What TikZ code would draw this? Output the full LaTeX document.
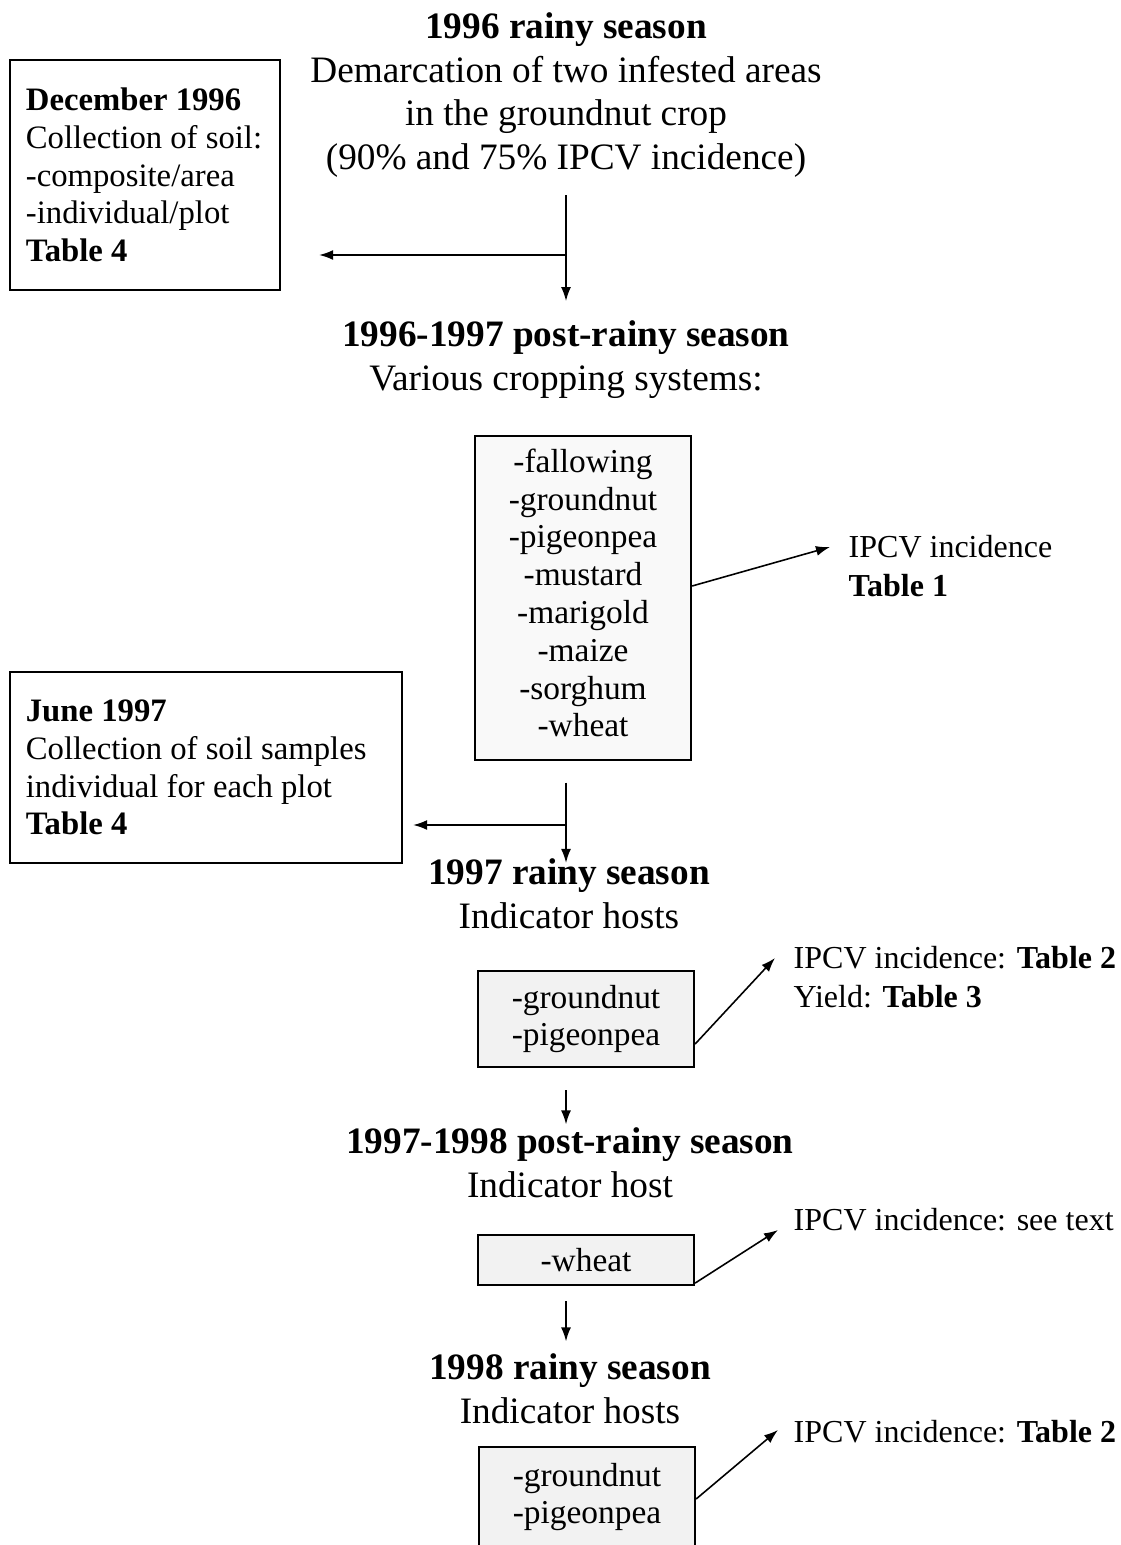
\documentclass[tikz,border=0pt]{standalone}
\usepackage{fontspec}
\setmainfont{Liberation Serif}
\usetikzlibrary{arrows.meta}

\begin{document}
\begin{tikzpicture}[x=0.01cm,y=-0.01cm,
    season/.style={align=center,inner sep=0pt,font=\fontsize{10.6}{12.4}\selectfont},
    soilbox/.style={draw,line width=0.6pt,align=flush left,inner xsep=0.16cm,font=\fontsize{9.3}{10.75}\selectfont},
    hostbox/.style={draw,line width=0.6pt,fill=gray!10,align=center,minimum width=2.16cm,font=\fontsize{9.5}{10.75}\selectfont},
    result/.style={anchor=west,align=left,inner sep=0pt,font=\fontsize{9.1}{11.1}\selectfont},
    link/.style={line width=0.45pt,-{Latex[length=0.14cm,width=0.1cm]}}]
    \clip (0,0) rectangle (1120,1545);

    \node[season] (s96) at (566,95)
      {\textbf{1996 rainy season}\\ Demarcation of two infested areas\\ in the groundnut crop\\ (90\% and 75\% IPCV incidence)};
    \node[soilbox,minimum width=2.7cm,minimum height=2.3cm,text width=2.38cm] (dec96) at (145,175)
      {\textbf{December 1996}\\ Collection of soil:\\ -composite/area\\ -individual/plot\\ \textbf{Table 4}};

    \node[season] (s9697) at (566,359.5)
      {\textbf{1996-1997 post-rainy season}\\ Various cropping systems:};
    \node[hostbox,fill=gray!5,minimum height=3.23cm] (crops) at (583,598) {};
    \node[align=center,font=\fontsize{9.5}{10.75}\selectfont] (croplist) at (583,593)
      {-fallowing\\ -groundnut\\ -pigeonpea\\ -mustard\\ -marigold\\ -maize\\ -sorghum\\ -wheat};
    \node[result] (inc1) at (848,566) {IPCV incidence\\ \textbf{Table 1}};

    \node[soilbox,minimum width=3.92cm,minimum height=1.91cm,text width=3.6cm] (jun97) at (206,767.5)
      {\textbf{June 1997}\\ Collection of soil samples\\ individual for each plot\\ \textbf{Table 4}};

    \node[season] (s97) at (569,893.5) {\textbf{1997 rainy season}\\ Indicator hosts};
    \node[hostbox,minimum height=0.96cm] (host97) at (586,1019) {-groundnut\\ -pigeonpea};
    \node[result] (inc2) at (793,977.5) {IPCV incidence: \textbf{Table 2}\\ Yield: \textbf{Table 3}};

    \node[season] (s9798) at (570,1163) {\textbf{1997-1998 post-rainy season}\\ Indicator host};
    \node[hostbox,inner ysep=0.05cm,minimum height=0.5cm] (wheat) at (586,1260) {-wheat};
    \node[result] (inc3) at (793,1220) {IPCV incidence: see text};

    \node[season] (s98) at (570,1389) {\textbf{1998 rainy season}\\ Indicator hosts};
    \node[hostbox,minimum height=1.0cm] (host98) at (587,1497) {-groundnut\\ -pigeonpea};
    \node[result] (inc4) at (793,1432) {IPCV incidence: \textbf{Table 2}};

    \coordinate (fork96) at (566,255);
    \coordinate (fork97) at (566,825);

    \draw[link,shorten <=0.17cm,shorten >=0.19cm] (s96) -- (s9697);
    \draw[link,shorten >=0.38cm] (fork96) -- (fork96 -| dec96.east);
    \draw[link] ([yshift=0.12cm]crops.east) -- ([xshift=-0.18cm,yshift=0.19cm]inc1.west);
    \draw[link,shorten <=0.22cm,shorten >=-0.05cm] (fork97 |- crops.south) -- (fork97 |- s97.north);
    \draw[link,shorten >=0.1cm] (fork97) -- (fork97 -| jun97.east);
    \draw[link] ([yshift=-0.25cm]host97.east) -- ([xshift=-0.18cm,yshift=0.195cm]inc2.west);
    \draw[link,shorten <=0.22cm,shorten >=0.03cm] (fork97 |- host97.south) -- (fork97 |- s9798.north);
    \draw[link] ([yshift=0.03cm]wheat.south east) -- ([xshift=-0.15cm,yshift=-0.1cm]inc3.west);
    \draw[link,shorten <=0.15cm,shorten >=0.12cm] (fork97 |- wheat.south) -- (fork97 |- s98.north);
    \draw[link] ([yshift=-0.02cm]host98.east) -- ([xshift=-0.15cm,yshift=0.02cm]inc4.west);
\end{tikzpicture}
\end{document}
